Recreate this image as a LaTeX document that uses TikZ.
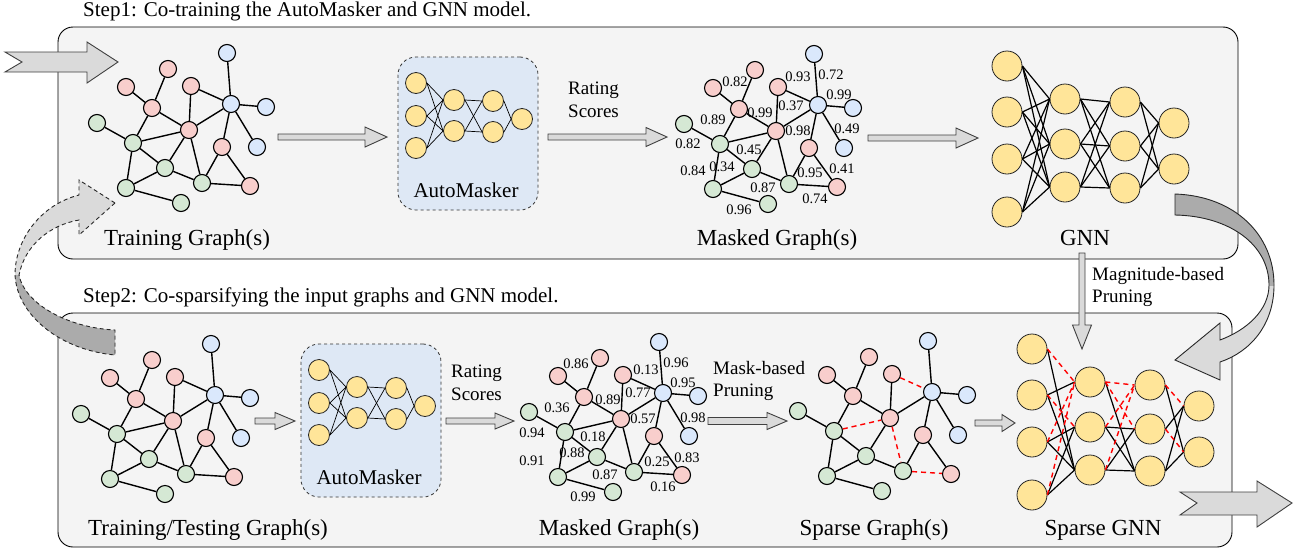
\documentclass[tikz,border=0pt]{standalone}
\usepackage{fontspec}
\setmainfont{Liberation Serif}
\definecolor{pinkc}{HTML}{F8CECC}
\definecolor{greenc}{HTML}{D5E8D4}
\definecolor{bluec}{HTML}{DAE8FC}
\definecolor{yellc}{HTML}{FFE599}
\definecolor{boxc}{HTML}{F4F4F4}
\definecolor{amc}{HTML}{DEE8F5}
\definecolor{arrc}{HTML}{DADADA}
\definecolor{darkarr}{HTML}{ABABAB}
\newcommand\myfs[1]{\fontsize{#1}{#1}\selectfont}
\tikzset{
 gn/.style={circle, draw=black, line width=1.1pt, minimum size=17pt, inner sep=0pt},
 pn/.style={gn, fill=pinkc}, grn/.style={gn, fill=greenc}, bn/.style={gn, fill=bluec},
 edge/.style={line width=1.4pt, black},
 pruned/.style={line width=1.4pt, red, dash pattern=on 5pt off 4pt},
 nn/.style={circle, draw=black!85, line width=0.8pt, fill=yellc, inner sep=0pt, minimum size=30pt},
 amn/.style={circle, draw=black!85, line width=0.8pt, fill=yellc, inner sep=0pt, minimum size=21pt},
 nnedge/.style={line width=1.2pt, black},
 amedge/.style={line width=0.7pt, black},
 bigbox/.style={draw=black, line width=0.9pt, fill=boxc, rounded corners=15pt},
 ambox/.style={draw=black!80, dashed, line width=0.8pt, fill=amc, rounded corners=18pt, minimum width=140pt, minimum height=153pt, inner sep=0pt},
 blk/.style={draw=black!75, line width=0.9pt, fill=arrc},
 lbl/.style={font=\myfs{23}, inner sep=0pt, anchor=base},
 wt/.style={font=\myfs{14.5}, inner sep=0pt},
 sm/.style={font=\fontsize{19}{22.5}\selectfont, inner sep=0pt, anchor=north west, align=left},
}
% graph: #1 prefix, #2 dx, #3 dy, #4 style of prunable edges
\newcommand\mkgraph[4]{%
\begin{scope}[shift={(#2,#3)}]
\node[bn] (#1B1) at (227,53) {};
\node[pn] (#1R1) at (168,69) {};
\node[pn] (#1R2) at (126,87) {};
\node[pn] (#1R3) at (191,86) {};
\node[bn] (#1B2) at (231,104) {};
\node[bn] (#1B3) at (266,107) {};
\node[pn] (#1R4) at (152,108) {};
\node[grn] (#1G1) at (97,123) {};
\node[pn] (#1R5) at (189,130) {};
\node[grn] (#1G2) at (133,143) {};
\node[pn] (#1R6) at (222,147) {};
\node[bn] (#1B4) at (257,147) {};
\node[grn] (#1G3) at (165,168) {};
\node[grn] (#1G4) at (126,188) {};
\node[grn] (#1G5) at (202,183) {};
\node[pn] (#1R7) at (250,186) {};
\node[grn] (#1G6) at (181,203) {};
\end{scope}
\draw[edge] (#1B1)--(#1B2) (#1R1)--(#1R4) (#1R2)--(#1R4) (#1R3)--(#1R5)
 (#1B2)--(#1B3) (#1B2)--(#1R5) (#1B2)--(#1R6) (#1B2)--(#1B4)
 (#1R4)--(#1R5) (#1R4)--(#1G2) (#1G1)--(#1G2) (#1G2)--(#1G3) (#1G2)--(#1G4)
 (#1R5)--(#1G3) (#1G3)--(#1G4) (#1G3)--(#1G5) (#1R6)--(#1G5) (#1R6)--(#1R7) (#1G4)--(#1G6);
\draw[#4] (#1R3)--(#1B2) (#1G2)--(#1R5) (#1R5)--(#1G5) (#1G5)--(#1R7);
}
% automasker: #1 prefix, #2 dx, #3 dy
\newcommand\mkam[3]{%
\begin{scope}[shift={(#2,#3)}]
\node[ambox] (#1box) at (468,133.5) {};
\node[amn] (#1-1-1) at (416,83) {};
\node[amn] (#1-1-2) at (416,116) {};
\node[amn] (#1-1-3) at (416,148) {};
\node[amn] (#1-2-1) at (454,100) {};
\node[amn] (#1-2-2) at (454,131) {};
\node[amn] (#1-3-1) at (493,101) {};
\node[amn] (#1-3-2) at (493,132) {};
\node[amn] (#1-4-1) at (522,119) {};
\node[font=\myfs{21}, inner sep=0pt, anchor=base] (#1lbl) at (466,197) {AutoMasker};
\end{scope}
\foreach \i in {1,2,3} \foreach \j in {1,2} \draw[amedge] (#1-1-\i.east) -- (#1-2-\j.west);
\foreach \i in {1,2} \foreach \j in {1,2} \draw[amedge] (#1-2-\i.east) -- (#1-3-\j.west);
\foreach \i in {1,2} \draw[amedge] (#1-3-\i.east) -- (#1-4-1.west);
}
% gnn nodes
\newcommand\mkgnn[3]{%
\begin{scope}[shift={(#2,#3)}]
\node[nn] (#1-1-1) at (1007,66) {};
\node[nn] (#1-1-2) at (1007,112) {};
\node[nn] (#1-1-3) at (1007,159) {};
\node[nn] (#1-1-4) at (1007,212) {};
\node[nn] (#1-2-1) at (1065,99) {};
\node[nn] (#1-2-2) at (1065,144) {};
\node[nn] (#1-2-3) at (1065,187) {};
\node[nn] (#1-3-1) at (1125,102) {};
\node[nn] (#1-3-2) at (1125,146) {};
\node[nn] (#1-3-3) at (1125,188) {};
\node[nn] (#1-4-1) at (1174,123) {};
\node[nn] (#1-4-2) at (1174,169) {};
\end{scope}}
\newcommand\harrow[6]{\draw[blk] (#1,{#3-#4}) -- ({#2-#6},{#3-#4}) -- ({#2-#6},{#3-#5}) -- (#2,#3) -- ({#2-#6},{#3+#5}) -- ({#2-#6},{#3+#4}) -- (#1,{#3+#4}) -- cycle;}

\begin{document}
\begin{tikzpicture}[x=1pt,y=-1pt]
\useasboundingbox (0,0) rectangle (1300,552);
\fill[white] (0,0) rectangle (1300,552);

% boxes
\draw[bigbox] (58,27) rectangle (1238,259);
\draw[bigbox] (58,313) rectangle (1232,547);

\node[font=\myfs{21}, inner sep=0pt, anchor=base west] (step1) at (83,16) {Step1: Co-training the AutoMasker and GNN model.};
\node[font=\myfs{21}, inner sep=0pt, anchor=base west] (step2) at (83,302) {Step2: Co-sparsifying the input graphs and GNN model.};

% top-left input arrow
\draw[blk] (5,52) -- (87,52) -- (87,42) -- (118,62) -- (87,83) -- (87,72) -- (5,72) -- (22,62) -- cycle;
% bottom-right output arrow
\draw[blk] (1180,492) -- (1257,492) -- (1257,481) -- (1292,503) -- (1257,527) -- (1257,515) -- (1180,515) -- (1197,503) -- cycle;

% graphs
\mkgraph{t}{0}{0}{edge}
\mkgraph{m}{587}{1}{edge}
\mkgraph{u}{-16}{291}{edge}
\mkgraph{n}{432}{289}{edge}
\mkgraph{s}{701}{288}{pruned}

% top weights
\begin{scope}[shift={(587,1)}]
\node[wt] (mw1) at (148,81) {0.82};
\node[wt] (mw2) at (126,119) {0.89};
\node[wt] (mw3) at (173,112) {0.99};
\node[wt] (mw4) at (211,76) {0.93};
\node[wt] (mw5) at (244,74) {0.72};
\node[wt] (mw6) at (204,105) {0.37};
\node[wt] (mw7) at (252,94) {0.99};
\node[wt] (mw8) at (211,130) {0.98};
\node[wt] (mw9) at (260,128) {0.49};
\node[wt] (mw10) at (101,143) {0.82};
\node[wt] (mw11) at (162,149) {0.45};
\node[wt] (mw12) at (106,170) {0.84};
\node[wt] (mw13) at (135,166) {0.34};
\node[wt] (mw14) at (176,187) {0.87};
\node[wt] (mw15) at (223,172) {0.95};
\node[wt] (mw16) at (255,168) {0.41};
\node[wt] (mw17) at (228,198) {0.74};
\node[wt] (mw18) at (152,209) {0.96};
\end{scope}
% bottom weights
\begin{scope}[shift={(432,289)}]
\node[wt] (nw1) at (144,75) {0.86};
\node[wt] (nw2) at (125,119) {0.36};
\node[wt] (nw3) at (176,111) {0.89};
\node[wt] (nw4) at (214,81) {0.13};
\node[wt] (nw5) at (244,74) {0.96};
\node[wt] (nw6) at (206,104) {0.77};
\node[wt] (nw7) at (251,94) {0.95};
\node[wt] (nw8) at (211,130) {0.57};
\node[wt] (nw9) at (261,129) {0.98};
\node[wt] (nw10) at (100,144) {0.94};
\node[wt] (nw11) at (161,148) {0.18};
\node[wt] (nw12) at (140,164) {0.88};
\node[wt] (nw13) at (100,172) {0.91};
\node[wt] (nw14) at (225,173) {0.25};
\node[wt] (nw15) at (255,169) {0.83};
\node[wt] (nw16) at (173,186) {0.87};
\node[wt] (nw17) at (231,198) {0.16};
\node[wt] (nw18) at (151,208) {0.99};
\end{scope}

% automaskers
\mkam{a}{0}{0}
\mkam{b}{-97}{287}

% GNNs
\mkgnn{g}{0}{0}
\foreach \i in {1,...,4} \foreach \j in {1,2,3} \draw[nnedge] (g-1-\i.east) -- (g-2-\j.west);
\foreach \i in {1,2,3} \foreach \j in {1,2,3} \draw[nnedge] (g-2-\i.east) -- (g-3-\j.west);
\foreach \i in {1,2,3} \foreach \j in {1,2} \draw[nnedge] (g-3-\i.east) -- (g-4-\j.west);
\mkgnn{s}{25}{283}
\foreach \a/\b/\c/\d in {1/1/2/3, 1/2/2/1, 1/2/2/3, 1/3/2/2, 1/3/2/3, 1/4/2/2, 1/4/2/3, 2/1/3/3, 2/2/3/2, 2/2/3/3, 2/3/3/2, 2/3/3/3, 3/1/4/2, 3/2/4/1, 3/3/4/1, 3/3/4/2}
  \draw[nnedge] (s-\a-\b.east) -- (s-\c-\d.west);
\foreach \a/\b/\c/\d in {1/1/2/1, 1/2/2/2, 1/3/2/1, 1/4/2/1, 2/1/3/1, 2/1/3/2, 2/2/3/1, 2/3/3/1, 3/1/4/1, 3/2/4/2}
  \draw[pruned] (s-\a-\b.east) -- (s-\c-\d.west);

% block arrows
\harrow{278}{387}{137}{3}{10}{22}
\harrow{548}{667}{137}{3}{9.5}{21}
\harrow{868}{978}{138}{3}{10}{22}
\harrow{255}{295}{421}{3}{8.5}{20}
\harrow{446}{514}{421}{3}{8}{19}
\harrow{708}{787}{421}{3.5}{8.5}{20}
\harrow{975}{1015}{423}{3}{8.5}{13}
% magnitude pruning arrow
\draw[blk] (1079,253) -- (1079,325) -- (1072.5,325) -- (1082,349) -- (1091.5,325) -- (1085,325) -- (1085,253) -- cycle;

% text labels
\node[lbl] (lt1) at (187,245) {Training Graph(s)};
\node[lbl] (lt2) at (777,245) {Masked Graph(s)};
\node[lbl] (lt3) at (1085,245) {GNN};
\node[lbl] (lb1) at (208,535) {Training/Testing Graph(s)};
\node[lbl] (lb2) at (619,535) {Masked Graph(s)};
\node[lbl] (lb3) at (874,535) {Sparse Graph(s)};
\node[lbl] (lb4) at (1103,535) {Sparse GNN};
\node[sm] (rs1) at (568,82) {Rating\\Scores};
\node[sm] (rs2) at (451,365) {Rating\\Scores};
\node[sm] (mp) at (713,361) {Mask-based\\Pruning};
\node[sm] (gp) at (1092,267) {Magnitude-based\\Pruning};

% right curved arrow
\fill[arrc] (1175,194) .. controls (1235,196) and (1274,235) .. (1274,285) .. controls (1274,325) and (1250,352) .. (1220,362) -- (1220,380) -- (1175,360) -- (1220,323) -- (1220,340) .. controls (1247,330) and (1269,310) .. (1269,285) .. controls (1269,245) and (1230,216) .. (1175,215) -- cycle;
\begin{scope}
\clip (1150,150) rectangle (1300,285);
\fill[darkarr] (1175,194) .. controls (1235,196) and (1274,235) .. (1274,285) .. controls (1274,325) and (1250,352) .. (1220,362) -- (1220,380) -- (1175,360) -- (1220,323) -- (1220,340) .. controls (1247,330) and (1269,310) .. (1269,285) .. controls (1269,245) and (1230,216) .. (1175,215) -- cycle;
\end{scope}
\draw[black!85, line width=0.9pt] (1175,194) .. controls (1235,196) and (1274,235) .. (1274,285) .. controls (1274,325) and (1250,352) .. (1220,362) -- (1220,380) -- (1175,360) -- (1220,323) -- (1220,340) .. controls (1247,330) and (1269,310) .. (1269,285) .. controls (1269,245) and (1230,216) .. (1175,215) -- cycle;

% left dashed curved arrow
\fill[arrc] (115,203) -- (79,180) -- (79,195) .. controls (40,205) and (15,240) .. (15,275) .. controls (17,315) and (60,350) .. (115,355) -- (115,330) .. controls (70,328) and (25,305) .. (19,275) .. controls (25,245) and (50,225) .. (79,220) -- (79,235) -- cycle;
\begin{scope}
\clip (0,275) rectangle (140,370);
\fill[darkarr] (115,203) -- (79,180) -- (79,195) .. controls (40,205) and (15,240) .. (15,275) .. controls (17,315) and (60,350) .. (115,355) -- (115,330) .. controls (70,328) and (25,305) .. (19,275) .. controls (25,245) and (50,225) .. (79,220) -- (79,235) -- cycle;
\end{scope}
\draw[black!85, line width=0.9pt, dash pattern=on 4pt off 3pt] (115,203) -- (79,180) -- (79,195) .. controls (40,205) and (15,240) .. (15,275) .. controls (17,315) and (60,350) .. (115,355) -- (115,330) .. controls (70,328) and (25,305) .. (19,275) .. controls (25,245) and (50,225) .. (79,220) -- (79,235) -- cycle;
\end{tikzpicture}
\end{document}
